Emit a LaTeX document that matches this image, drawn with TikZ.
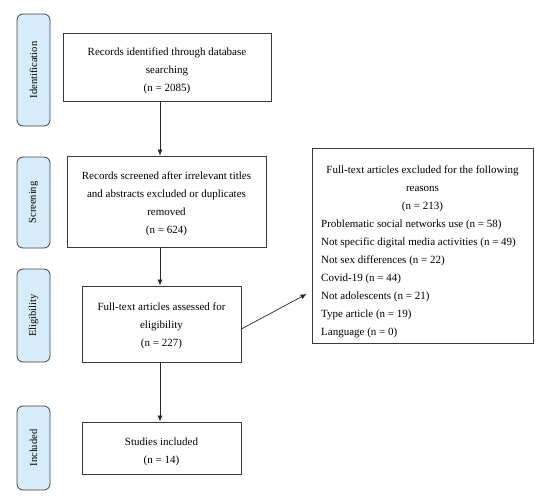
\documentclass[tikz,border=0pt]{standalone}
\usepackage{fontspec}
\setmainfont{Liberation Serif}
\usetikzlibrary{arrows.meta,calc}
\definecolor{tabfill}{HTML}{D6ECFA}
\definecolor{tabline}{HTML}{404040}
\definecolor{boxline}{HTML}{3A3A3A}
\tikzset{
  box/.style={draw=boxline,line width=0.8pt,fill=white,inner sep=0pt},
  boxtext/.style={align=center,inner sep=0pt,font=\fontsize{11}{18}\selectfont},
  tab/.style={draw=tabline,line width=0.8pt,fill=tabfill,rounded corners=6pt,minimum width=33pt,inner sep=0pt},
  tablabel/.style={rotate=90,font=\fontsize{10.5}{12}\selectfont},
  arr/.style={draw=black!85,line width=0.7pt,-{Latex[length=6pt,width=5pt]}},
}
\begin{document}
\begin{tikzpicture}[x=1pt,y=-1pt]
\useasboundingbox (0,0) rectangle (550,498);
% side tabs
\node[tab,minimum height=112pt] (t1) at (33.5,70) {};
\node[tablabel] (t1l) at (t1.center) {Identification};
\node[tab,minimum height=91pt] (t2) at (33.5,202.5) {};
\node[tablabel] (t2l) at (t2.center) {Screening};
\node[tab,minimum height=93pt] (t3) at (33.5,315.5) {};
\node[tablabel] (t3l) at (t3.center) {Eligibility};
\node[tab,minimum height=84pt] (t4) at (33.5,448) {};
\node[tablabel] (t4l) at (t4.center) {Included};
% boxes
\node[box,minimum width=208pt,minimum height=68pt] (b1) at (167,67) {};
\node[boxtext] (b1t) at (167,71) {Records identified through database\\searching\\(n = 2085)};
\node[box,minimum width=199pt,minimum height=91pt] (b2) at (166.5,201.5) {};
\node[boxtext] (b2t) at (166.5,204) {Records screened after irrelevant titles\\and abstracts excluded or duplicates\\removed\\(n = 624)};
\node[box,minimum width=159pt,minimum height=76pt] (b3) at (161.5,324) {};
\node[boxtext] (b3t) at (161.5,326) {Full-text articles assessed for\\eligibility\\(n = 227)};
\node[box,minimum width=159pt,minimum height=52pt] (b4) at (161.5,448) {};
\node[boxtext] (b4t) at (161.5,452) {Studies included\\(n = 14)};
\node[box,minimum width=221pt,minimum height=195pt] (rb) at (422.5,245.5) {};
\node[boxtext,anchor=north] (rbh) at (422.5,166) {Full-text articles excluded for the following\\reasons\\(n = 213)};
\node[boxtext,anchor=north west,align=left] (rbl) at (321,220) {Problematic social networks use (n = 58)\\Not specific digital media activities (n = 49)\\Not sex differences (n = 22)\\Covid-19 (n = 44)\\Not adolescents (n = 21)\\Type article (n = 19)\\Language (n = 0)};
% arrows
\coordinate (ax) at (160,0);
\draw[arr] (b1.south -| ax) -- (b2.north -| ax);
\draw[arr] (b2.south -| ax) -- (b3.north -| ax);
\draw[arr] (b3.south -| ax) -- (b4.north -| ax);
\coordinate (tip) at ($(rb.west)+(-5,48.5)$);
\draw[arr] ($(b3.east)+(0,5)$) -- (tip);
\end{tikzpicture}
\end{document}
